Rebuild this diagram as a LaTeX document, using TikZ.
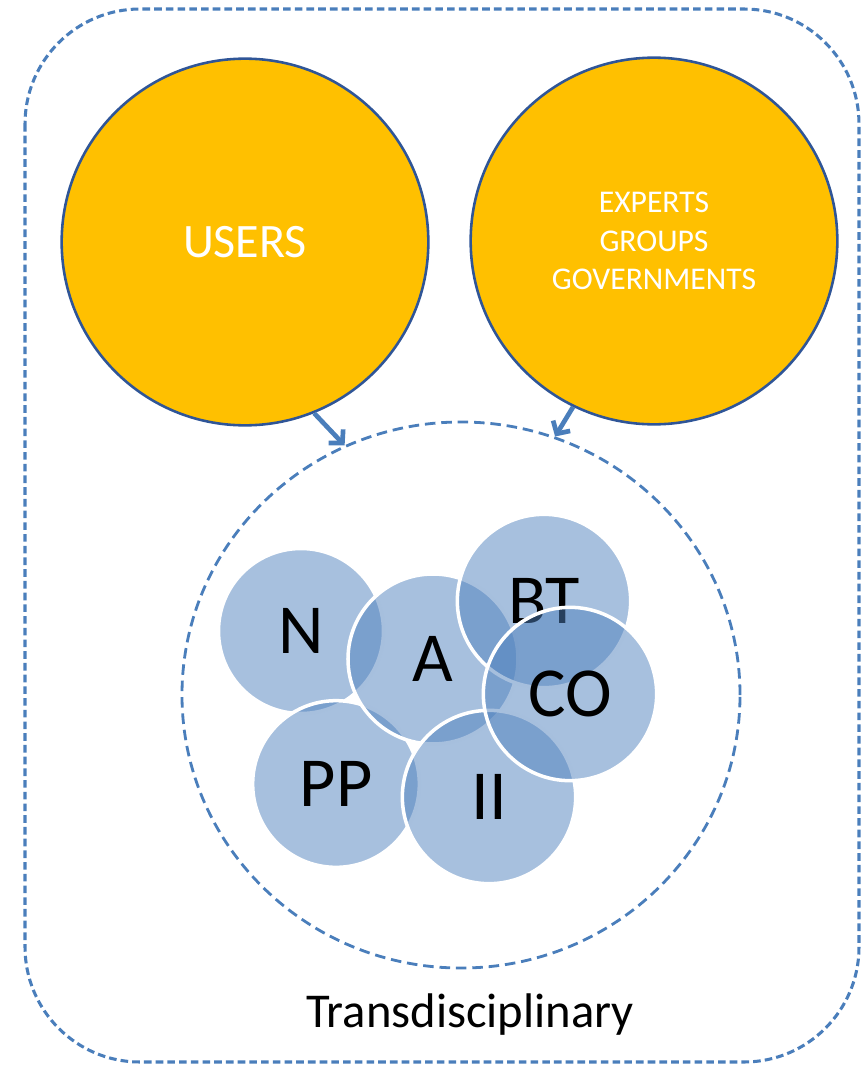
\documentclass[tikz,border=0pt]{standalone}
\usepackage{fontspec}
\setmainfont{Carlito}
\usepackage{xcolor}
\usetikzlibrary{shapes.geometric,arrows.meta}
\definecolor{gold}{HTML}{FFC000}
\definecolor{rimblue}{HTML}{2F5597}
\definecolor{dashblue}{HTML}{4A7EBB}
\definecolor{discblue}{HTML}{4F81BD}

\begin{document}
\begin{tikzpicture}[x=0.03cm,y=-0.03cm,
  bigdisc/.style={circle,fill=gold,draw=rimblue,line width=2.2pt,text=white,minimum size=11cm,inner sep=0pt},
  disc/.style={circle,fill=discblue,fill opacity=0.5,text opacity=1,draw=white,line width=3pt,minimum size=5.1cm,inner sep=0pt,font=\fontsize{60}{64}\selectfont},
  linkarrow/.style={-{Straight Barb[length=8pt,width=17pt]},draw=dashblue,line width=4pt}]
\useasboundingbox (0,0) rectangle (861,1065);

\draw[dashblue,line width=2.6pt,dash pattern=on 6.5pt off 3.5pt,rounded corners=3.45cm] (25,9) rectangle (859,1062);

\node[bigdisc,font=\fontsize{41}{48}\selectfont] (users) at (245,242) {USERS};
\node[bigdisc,align=center,font=\fontsize{27}{33}\selectfont] (experts) at (654,241) {EXPERTS\\GROUPS\\GOVERNMENTS};

\node[ellipse,draw=dashblue,line width=2.4pt,dash pattern=on 9pt off 5pt,minimum width=16.74cm,minimum height=16.38cm,inner sep=0pt] (field) at (461,695) {};

\draw[linkarrow] (users.-68) -- (field.115);
\draw[linkarrow] (experts.-116) -- (field.70);

% disciplines
\node[disc,minimum size=4.95cm] (n) at (301,631) {N};
\node[disc,minimum size=5.0cm] (pp) at (336,784) {PP};
\node[disc] (a) at (433,659) {A};
\node[disc,minimum size=5.2cm] (bt) at (544,601) {BT};
\node[disc,minimum size=5.2cm] (ii) at (489,797) {II};
\node[disc,minimum size=5.2cm] (co) at (570,694) {CO};

\node[font=\fontsize{41.5}{48}\selectfont] (trans) at (470,1015) {Transdisciplinary};
\end{tikzpicture}
\end{document}
